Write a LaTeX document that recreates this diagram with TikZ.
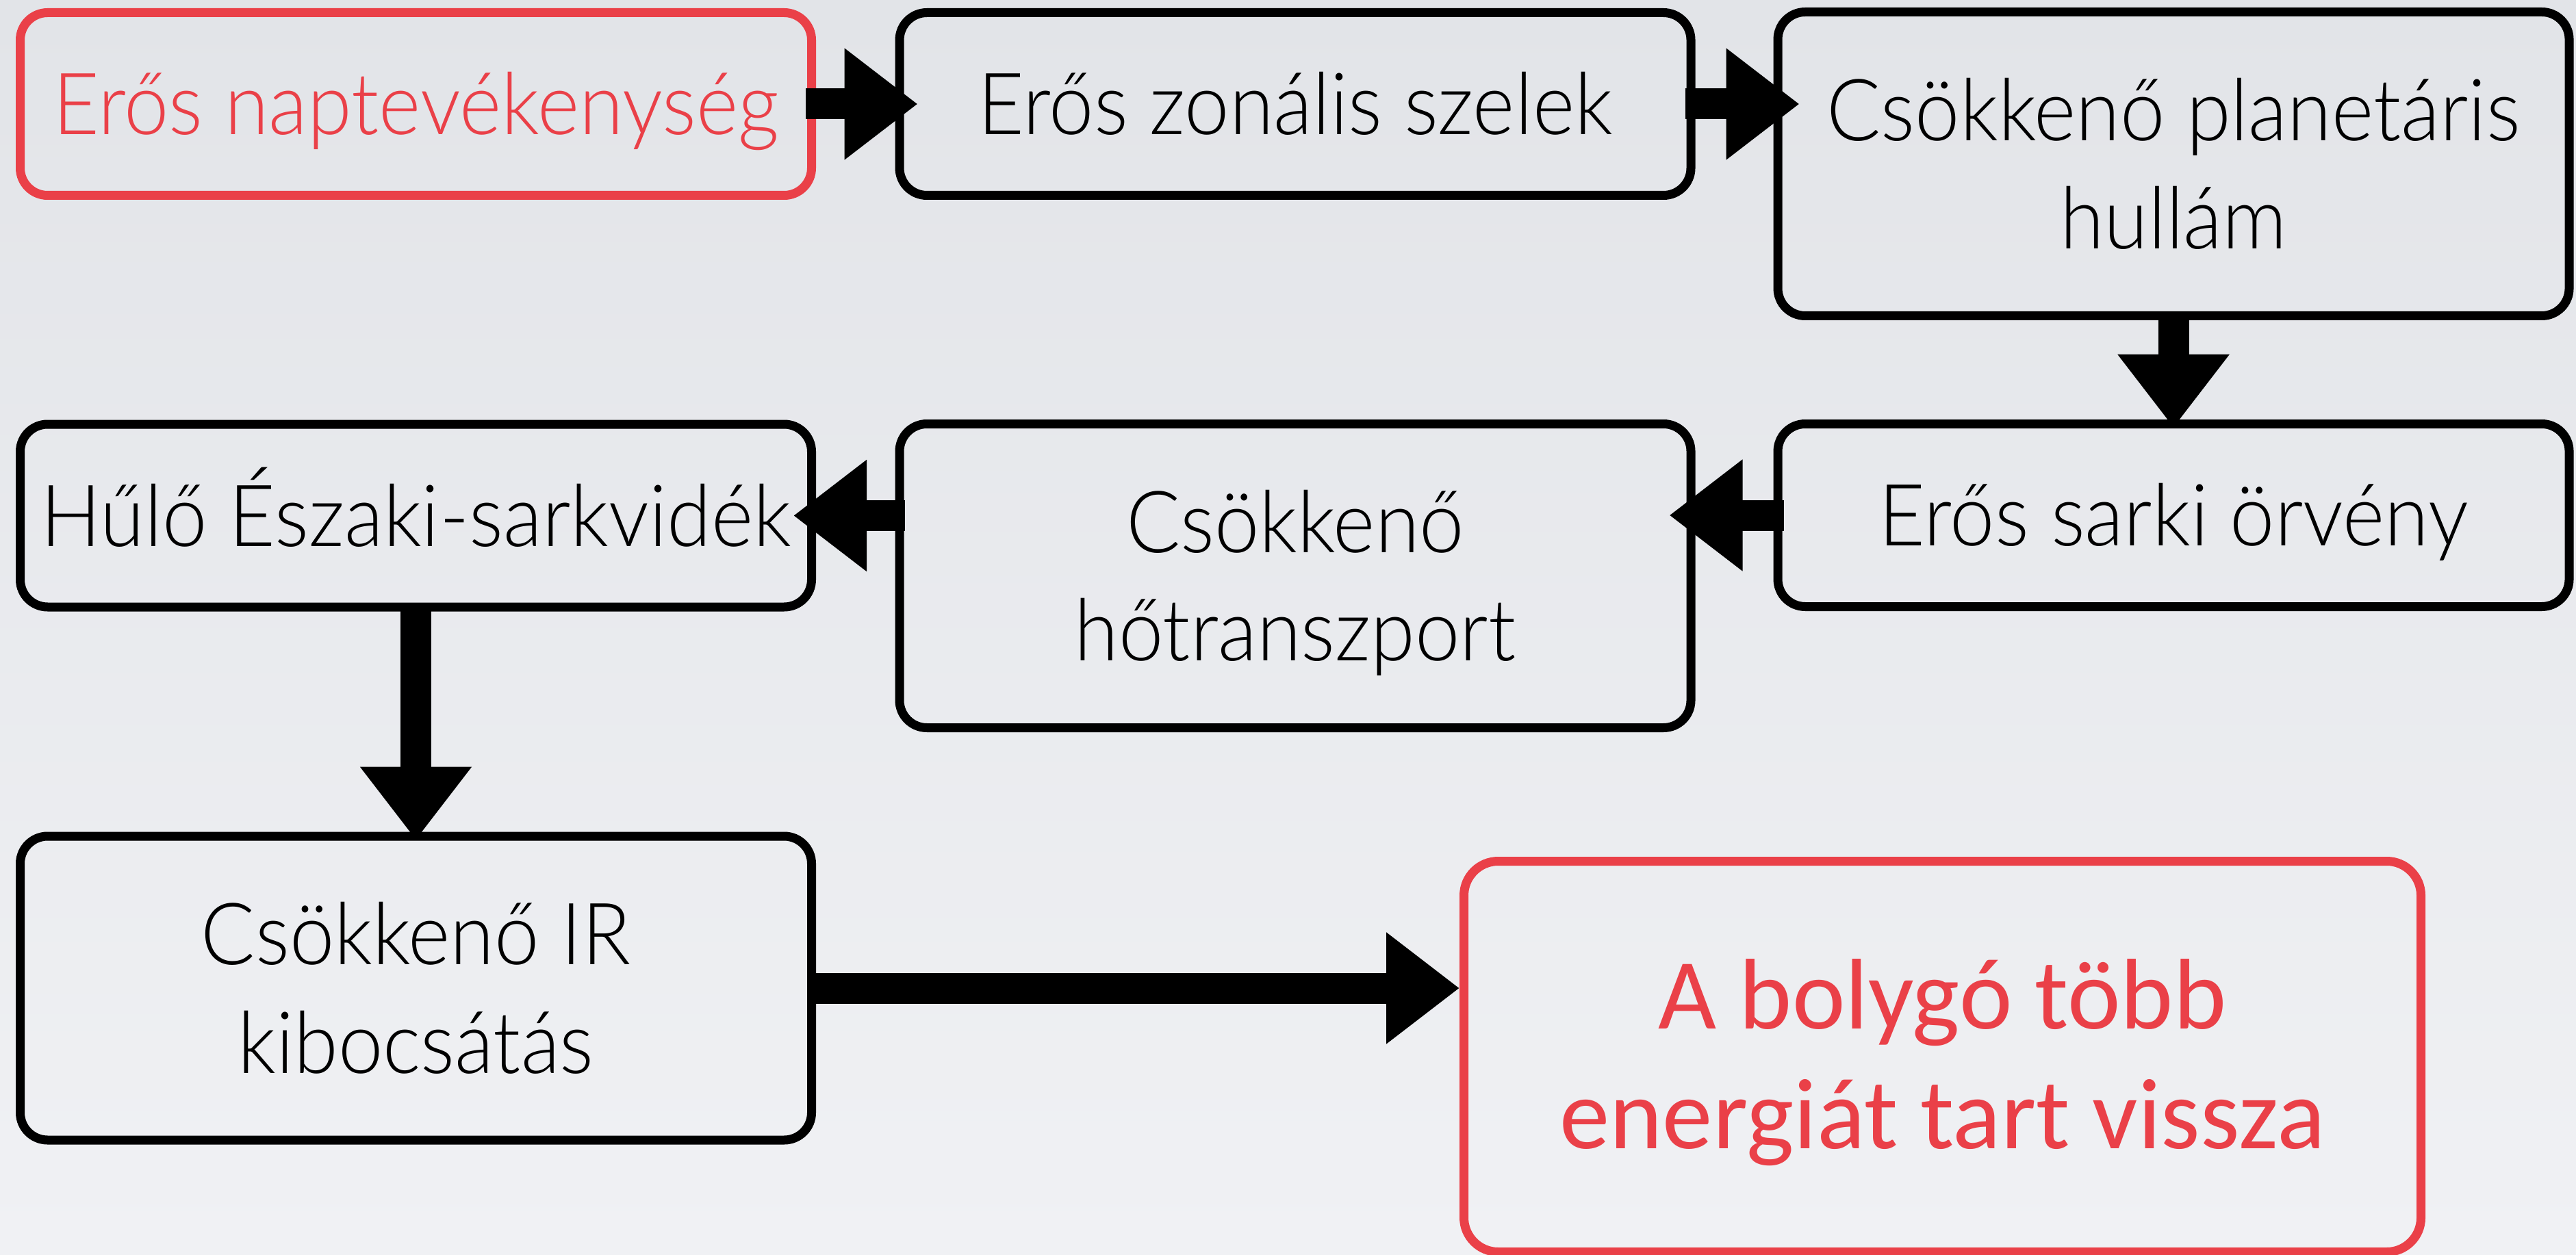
\documentclass[tikz,border=0pt]{standalone}
\usepackage{fontspec}
\usetikzlibrary{arrows.meta,calc}
\newfontfamily\gillf{Lato Light}[FakeStretch=0.935]
\newfontfamily\carlf{Carlito}
\definecolor{kred}{RGB}{234,64,72}
\definecolor{bgtop}{RGB}{226,228,232}
\definecolor{bgbot}{RGB}{240,241,244}
\newcommand\twoln[2]{\vtop{\halign{\hfil##\hfil\cr#1\cr#2\cr}}}
\tikzset{
  box/.style={draw, line width=1.3mm, rounded corners=4mm, inner sep=0pt,
    minimum width=115.6mm, font=\gillf\fontsize{35.7pt}{45.2pt}\selectfont,
    text height=25.6pt, text depth=0pt},
  lowbox/.style={minimum height=26.7mm},
  highbox/.style={minimum height=44.4mm, text depth=45.2pt},
  redbox/.style={draw=kred, text=kred},
  blockarrow/.style={draw=black, line width=4.5mm,
    -{Triangle[width=15.6mm,length=10.7mm]}},
}
\begin{document}
\begin{tikzpicture}[x=0.1mm, y=-0.1mm]
\useasboundingbox (0mm,0mm) rectangle (376.3mm,-183.4mm);
\shade[top color=bgtop, bottom color=bgbot] (0mm,0mm) rectangle (376.3mm,-183.4mm);

\node[box,lowbox,redbox] (b1) at (607.5,152) {Erős naptevékenység};
\node[box,lowbox] (b2) at (1892,152) {Erős zonális szelek};
\node[box,highbox] (b3) at (3175,239.5) {\twoln{Csökkenő planetáris}{hullám}};
\node[box,lowbox] (b6) at (3175,753) {Erős sarki örvény};
\node[box,highbox] (b5) at (1892,841.5) {\twoln{Csökkenő}{hőtranszport}};
\node[box,lowbox] (b4) at (607.5,753.5) {Hűlő Északi-sarkvidék};
\node[box,highbox] (b7) at (607.5,1444) {\twoln{Csökkenő IR}{kibocsátás}};
\node[box,redbox, minimum width=139.8mm, minimum height=57.1mm, rounded corners=5mm,
  font=\carlf\fontsize{41.8pt}{50pt}\selectfont, text height=26.7pt, text depth=50pt]
  (b8) at (2837.5,1544) {\twoln{A bolygó több}{energiát tart vissza}};

\draw[blockarrow] ($(b1.east)+(-15,0)$) -- ($(b2.west)+(33,0)$);
\draw[blockarrow] ($(b2.east)+(-15,0)$) -- ($(b3.west|-b2.east)+(38,0)$);
\draw[blockarrow] ($(b3.south)+(0,-5)$) -- ($(b6.north)+(0,12)$);
\draw[blockarrow] ($(b6.west)+(15,0)$) -- ($(b5.east|-b6.west)+(-38,0)$);
\draw[blockarrow] ($(b5.west|-b4.east)+(14,0)$) -- ($(b4.east)+(-33,0)$);
\draw[blockarrow] ($(b4.south)+(0,-6)$) -- ($(b7.north)+(0,12)$);
\draw[blockarrow] (b7.east) -- (b8.west|-b7.east);
\end{tikzpicture}
\end{document}
